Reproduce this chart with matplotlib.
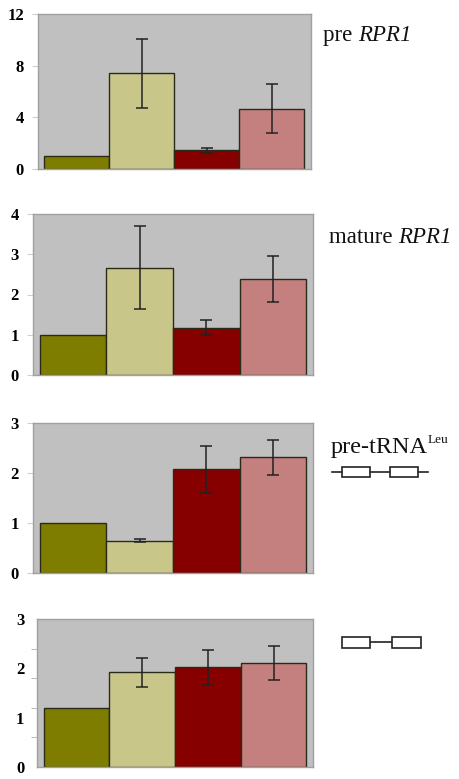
import numpy as np
import matplotlib
matplotlib.use('Agg')
import matplotlib.pyplot as plt
from matplotlib.patches import Rectangle
from matplotlib.lines import Line2D

# samples (no x labels in the figure)
samples = ['s1', 's2', 's3', 's4']
bar_colors = ['#7e7d00', '#c9c68a', '#870000', '#c47f7f']

# values
pre_rpr1 = [1.0, 7.4, 1.45, 4.65]
pre_rpr1_err = [0, 2.7, 0.2, 1.9]
mature_rpr1 = [1.0, 2.67, 1.18, 2.39]
mature_rpr1_err = [0, 1.02, 0.19, 0.57]
pre_trna = [1.0, 0.65, 2.08, 2.32]
pre_trna_err = [0, 0.03, 0.47, 0.35]
spliced_trna = [1.2, 1.92, 2.02, 2.11]
spliced_trna_err = [0, 0.29, 0.35, 0.34]

ymax = [12, 4, 3, 3]
yticks = [[0, 4, 8, 12], [0, 1, 2, 3, 4], [0, 1, 2, 3], [0, 1, 2, 3]]
# (plain part, italic part, superscript)
labels = [('pre ', 'RPR1', ''), ('mature ', 'RPR1', ''), ('pre-tRNA', '', 'Leu'), None]

# axes boxes in pixels: left, right, top, bottom
W, H = 460, 779
boxes = [(38, 311, 14, 169), (33, 313, 214, 375), (33, 313, 423, 573), (37, 313, 619, 767)]
label_pos = [(323, 41), (329, 243), (331, 453), None]
label_size = [16.5, 16.5, 17.5]

fig = plt.figure(figsize=(W / 100, H / 100), dpi=100)
renderer = fig.canvas.get_renderer()

panels = [(pre_rpr1, pre_rpr1_err), (mature_rpr1, mature_rpr1_err),
          (pre_trna, pre_trna_err), (spliced_trna, spliced_trna_err)]

x = np.arange(len(samples))
for k, (vals, errs) in enumerate(panels):
    l, r, t, b = boxes[k]
    ax = fig.add_axes([l / W, 1 - b / H, (r - l) / W, (b - t) / H])
    ax.set_facecolor('#c0c0c0')
    ax.bar(x, vals, width=1.0, color=bar_colors, edgecolor='#2a2a1a', linewidth=1.0, zorder=2)
    idx = [i for i in range(len(errs)) if errs[i] > 0]
    ax.errorbar(x[idx], np.array(vals)[idx], yerr=np.array(errs)[idx], fmt='none',
                ecolor='#222222', elinewidth=1.1, capsize=4, capthick=1.1, zorder=3)
    ax.set_xlim(-0.6, 3.6)
    ax.set_ylim(0, ymax[k])
    ax.set_xticks([])
    ax.set_yticks(yticks[k])
    ax.set_yticklabels([str(v) for v in yticks[k]], fontfamily='Liberation Serif',
                       fontweight='bold', fontsize=12)
    if k == 3:
        ax.set_yticks(np.arange(0, 3.01, 0.6), minor=True)
        ax.tick_params(axis='y', which='major', length=0, pad=9)
        ax.tick_params(axis='y', which='minor', length=4, color='#b0b0b0')
    else:
        ax.tick_params(axis='y', length=4, color='#d0d0d0', pad=6)
    for s in ax.spines.values():
        s.set_color('#a0a0a0')
        s.set_linewidth(1.0)
    if label_pos[k]:
        lx, ly = label_pos[k]
        plain, ital, sup = labels[k]
        fs = label_size[k]
        t1 = fig.text(lx / W, 1 - ly / H, plain, fontfamily='Liberation Serif',
                      fontsize=fs, va='baseline', ha='left', color='#111111')
        x_end = t1.get_window_extent(renderer).x1 / W
        if ital:
            fig.text(x_end, 1 - ly / H, ital, fontfamily='Liberation Serif', fontstyle='italic',
                     fontsize=fs, va='baseline', ha='left', color='#111111')
        if sup:
            fig.text(x_end, 1 - (ly - 10) / H, sup, fontfamily='Liberation Serif',
                     fontsize=9.5, va='baseline', ha='left', color='#111111')

# gene diagrams
def px_rect(x0, x1, y0, y1):
    fig.patches.append(Rectangle((x0 / W, 1 - y1 / H), (x1 - x0) / W, (y1 - y0) / H,
                                 transform=fig.transFigure, facecolor='white',
                                 edgecolor='#222222', linewidth=1.2, zorder=5))

def px_line(x0, x1, y):
    fig.lines.append(Line2D([x0 / W, x1 / W], [1 - y / H, 1 - y / H],
                            transform=fig.transFigure, color='#222222', linewidth=1.2, zorder=4))

px_line(332, 428, 472)
px_rect(342, 370, 467, 477)
px_rect(390, 418, 467, 477)

px_line(370, 392, 642)
px_rect(342, 370, 637, 648)
px_rect(392, 421, 637, 648)

fig.savefig('out.png', dpi=100)
